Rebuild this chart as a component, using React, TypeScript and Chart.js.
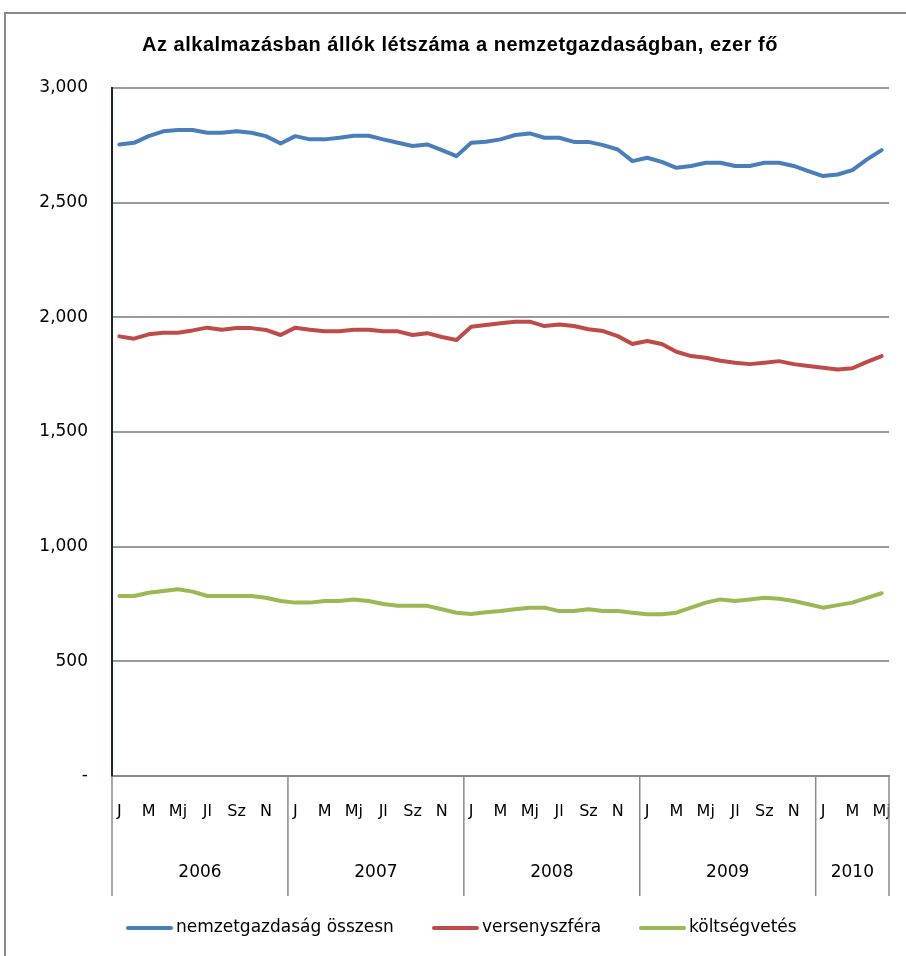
import React, { useEffect, useRef } from "react";
import { Chart, registerables } from "chart.js";

Chart.register(...registerables);

const TITLE = "Az alkalmazásban állók létszáma a nemzetgazdaságban, ezer fő";
const monthNames = ["J", "F", "M", "Á", "Mj", "J", "Jl", "A", "Sz", "O", "N", "D"];
const years = ["2006", "2007", "2008", "2009", "2010"];
const monthsPerYear = [12, 12, 12, 12, 5];
const yTicks = [0, 500, 1000, 1500, 2000, 2500, 3000];

const seriesNames = ["nemzetgazdaság összesn", "versenyszféra", "költségvetés"];
const seriesColors = ["#4A7EBB", "#BE4B48", "#98B954"];

const total = [
  2754, 2761, 2790, 2811, 2817, 2817, 2805, 2805, 2811, 2805, 2790, 2758,
  2790, 2776, 2776, 2783, 2792, 2792, 2776, 2761, 2747, 2754, 2729, 2703,
  2761, 2766, 2776, 2795, 2802, 2783, 2783, 2765, 2765, 2751, 2732, 2681,
  2696, 2678, 2652, 2660, 2674, 2674, 2660, 2660, 2674, 2674, 2660, 2638,
  2616, 2623, 2642, 2689, 2729,
];
const competitive = [
  1917, 1907, 1926, 1933, 1933, 1943, 1955, 1946, 1953, 1953, 1945, 1923,
  1955, 1946, 1939, 1939, 1946, 1946, 1939, 1939, 1923, 1931, 1914, 1901,
  1959, 1967, 1974, 1981, 1981, 1962, 1969, 1962, 1948, 1940, 1918, 1884,
  1897, 1884, 1850, 1831, 1824, 1811, 1802, 1796, 1802, 1809, 1796, 1788,
  1780, 1773, 1778, 1806, 1831,
];
const budget = [
  785, 785, 799, 807, 814, 804, 785, 785, 785, 785, 777, 763,
  756, 756, 763, 763, 770, 763, 750, 742, 742, 742, 727, 712,
  706, 714, 719, 727, 734, 734, 719, 719, 727, 719, 719, 712,
  705, 705, 712, 734, 756, 770, 763, 770, 777, 773, 763, 749,
  734, 745, 756, 777, 797,
];

const FONT = "'DejaVu Sans', 'Liberation Sans', sans-serif";
const TITLE_FONT = "'Liberation Sans', Arial, sans-serif";

const categories: string[] = [];
monthsPerYear.forEach((n) => {
  for (let m = 0; m < n; m++) categories.push(monthNames[m]);
});

const decorPlugin = {
  id: "decor",
  beforeDraw(chart: any) {
    const ctx = chart.ctx;
    ctx.save();
    ctx.fillStyle = "#fff";
    ctx.fillRect(0, 0, chart.width, chart.height);
    ctx.strokeStyle = "#8a8a8a";
    ctx.lineWidth = 2;
    ctx.strokeRect(5, 13, chart.width + 20, chart.height + 20);
    ctx.restore();
  },
  afterDraw(chart: any) {
    const ctx = chart.ctx;
    const xs = chart.scales.x;
    const area = chart.chartArea;
    const step = xs.getPixelForValue(1) - xs.getPixelForValue(0);
    const edge = (i: number) => xs.getPixelForValue(0) - step / 2 + i * step;
    ctx.save();
    ctx.fillStyle = "#000";
    ctx.font = `16px ${FONT}`;
    ctx.textAlign = "center";
    ctx.textBaseline = "middle";
    categories.forEach((c, i) => {
      const m = i % 12;
      if (m % 2 === 0) ctx.fillText(c, xs.getPixelForValue(i), area.bottom + 36);
    });
    ctx.strokeStyle = "#8a8a8a";
    ctx.lineWidth = 1.5;
    let start = 0;
    const bounds = [0];
    monthsPerYear.forEach((n) => {
      start += n;
      bounds.push(start);
    });
    bounds.forEach((b) => {
      const x = edge(b);
      ctx.beginPath();
      ctx.moveTo(x, area.bottom);
      ctx.lineTo(x, area.bottom + 120);
      ctx.stroke();
    });
    ctx.font = `17px ${FONT}`;
    years.forEach((y, i) => {
      const x = (edge(bounds[i]) + edge(bounds[i + 1])) / 2;
      ctx.fillText(y, x, area.bottom + 97);
    });
    // title
    ctx.font = `bold 20px ${TITLE_FONT}`;
    (ctx as any).letterSpacing = "0.5px";
    ctx.fillText(TITLE, 460, 45);
    (ctx as any).letterSpacing = "0px";
    // legend
    ctx.font = `17px ${FONT}`;
    ctx.textAlign = "left";
    const legendX = [128, 434, 641];
    const ly = 928;
    seriesNames.forEach((name, i) => {
      ctx.strokeStyle = seriesColors[i];
      ctx.lineWidth = 4;
      ctx.lineCap = "round";
      ctx.beginPath();
      ctx.moveTo(legendX[i], ly);
      ctx.lineTo(legendX[i] + 43, ly);
      ctx.stroke();
      ctx.fillText(name, legendX[i] + 48, ly);
    });
    ctx.restore();
  },
};

export default function App() {
  const ref = useRef<HTMLCanvasElement>(null);
  useEffect(() => {
    if (!ref.current) return;
    const datasets = [total, competitive, budget].map((d, i) => ({
      label: seriesNames[i],
      data: d,
      borderColor: seriesColors[i],
      backgroundColor: seriesColors[i],
      borderWidth: 4,
      pointRadius: 0,
      tension: 0,
      borderJoinStyle: "round" as const,
      borderCapStyle: "round" as const,
      fill: false,
    }));
    const chart = new Chart(ref.current, {
      type: "line",
      data: { labels: categories, datasets },
      options: {
        animation: false,
        responsive: false,
        devicePixelRatio: 1,
        layout: { padding: { top: 88, right: 17, left: 0, bottom: 0 } },
        plugins: { legend: { display: false }, title: { display: false }, tooltip: { enabled: false } },
        scales: {
          x: {
            type: "category",
            offset: true,
            grid: { display: false, drawTicks: false },
            ticks: { display: false },
            border: { display: true, color: "#8a8a8a", width: 2 },
            afterFit: (s: any) => {
              s.height = 180;
            },
          },
          y: {
            min: 0,
            max: 3000,
            afterBuildTicks: (s: any) => {
              s.ticks = yTicks.map((v) => ({ value: v }));
            },
            ticks: {
              padding: 24,
              color: "#000",
              font: { family: FONT, size: 17 },
              callback: (v: any) => (Number(v) === 0 ? "-" : Number(v).toLocaleString("en-US")),
            },
            grid: { color: "#9a9a9a", lineWidth: 2, drawTicks: false },
            border: { display: true, color: "#17263f", width: 2 },
            afterFit: (s: any) => {
              s.width = 112;
            },
          },
        },
      },
      plugins: [decorPlugin],
    });
    return () => chart.destroy();
  }, []);
  return (
    <div style={{ position: "absolute", left: 0, top: 0, width: 906, height: 956 }}>
      <canvas ref={ref} width={906} height={956} style={{ display: "block" }} />
    </div>
  );
}
